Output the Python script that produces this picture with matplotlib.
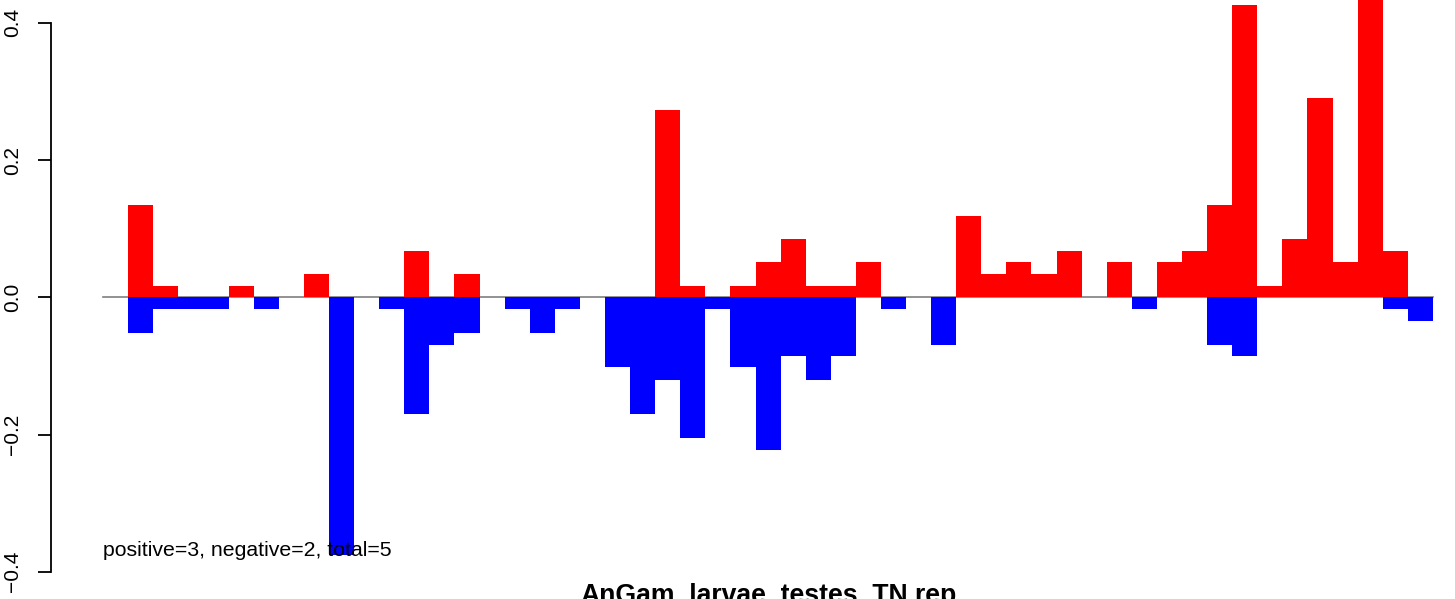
#!/usr/bin/env python3
# -*- coding: utf-8 -*-
"""
plot.py — barplot duong/am theo tung bin (kieu R barplot, space=0)
"""
import matplotlib
matplotlib.use("Agg")
import matplotlib.pyplot as plt

# ------- du lieu doc tu hinh -------
TITLE = "AnGam_larvae_testes_TN.rep"
NOTE = "positive=3, negative=2, total=5"

# gia tri duong (do) cho 52 bin
POS = [0.135, 0.017, 0, 0, 0.017, 0, 0, 0.034, 0, 0,
       0, 0.067, 0, 0.034, 0, 0, 0, 0, 0, 0,
       0, 0.273, 0.017, 0, 0.017, 0.052, 0.085, 0.017, 0.017, 0.052,
       0, 0, 0, 0.119, 0.034, 0.052, 0.034, 0.067, 0, 0.052,
       0, 0.052, 0.067, 0.135, 0.426, 0.017, 0.085, 0.290, 0.052, 0.45,
       0.067, 0]
# gia tri am (xanh)
NEG = [-0.052, -0.017, -0.017, -0.017, 0, -0.017, 0, 0, -0.375, 0,
       -0.017, -0.170, -0.069, -0.052, 0, -0.017, -0.052, -0.017, 0, -0.102,
       -0.170, -0.120, -0.205, -0.017, -0.102, -0.222, -0.085, -0.120, -0.085, 0,
       -0.017, 0, -0.069, 0, 0, 0, 0, 0, 0, 0,
       -0.017, 0, 0, -0.069, -0.085, 0, 0, 0, 0, 0,
       -0.017, -0.034]
YTICKS = [-0.4, -0.2, 0.0, 0.2, 0.4]
YTICKLABELS = ["\u22120.4", "\u22120.2", "0.0", "0.2", "0.4"]

plt.rcParams["font.family"] = ["Liberation Sans", "DejaVu Sans"]

W, H = 1455, 599
fig = plt.figure(figsize=(W / 100, H / 100), dpi=100)
# truc bat dau tai cot truc y (x~50px), phu het chieu cao
ax = fig.add_axes([50.5 / W, 0, 1 - 50.5 / W, 1])

x = list(range(len(POS)))
ax.plot([-1, len(POS)], [0, 0], color="#7f7f7f", lw=1.2, zorder=1)
ax.bar(x, POS, width=1.0, align="edge", color="#ff0000", lw=0, zorder=2)
ax.bar(x, NEG, width=1.0, align="edge", color="#0000ff", lw=0, zorder=2)

ax.set_xlim(-3.101, 52.88)
ax.set_ylim(-0.4398, 0.4334)

for s in ("top", "right", "bottom"):
    ax.spines[s].set_visible(False)
ax.spines["left"].set_bounds(-0.4, 0.4)
ax.spines["left"].set_linewidth(1.3)
ax.set_xticks([])
ax.set_yticks(YTICKS)
ax.set_yticklabels(YTICKLABELS, rotation=90, va="center", fontsize=15)
ax.tick_params(axis="y", length=9.5, width=1.3, pad=11)

ax.text(-1, -0.377, NOTE, fontsize=15.3, ha="left", va="baseline", zorder=3)
fig.text(768 / W, (H - 603) / H, TITLE, fontsize=19.2, fontweight="bold",
         ha="center", va="baseline")

fig.savefig("out.png", dpi=100)
